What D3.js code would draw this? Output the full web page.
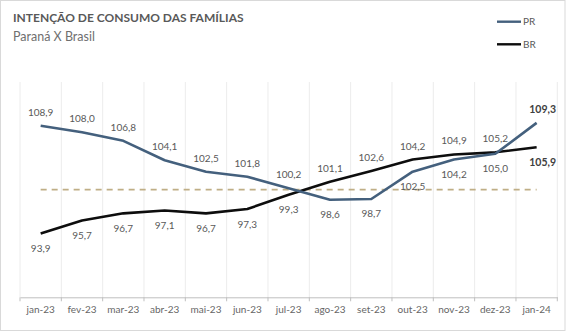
<!DOCTYPE html>
<html><head><meta charset="utf-8">
<script src="https://cdn.jsdelivr.net/npm/d3@7"></script>
<style>body{margin:0;background:#fff}svg{display:block}</style>
</head><body>
<script>
const categories = ["jan-23","fev-23","mar-23","abr-23","mai-23","jun-23","jul-23","ago-23","set-23","out-23","nov-23","dez-23","jan-24"];
const prValues = [108.9,108.0,106.8,104.1,102.5,101.8,100.2,98.6,98.7,102.5,104.2,105.0,109.3];
const brValues = [93.9,95.7,96.7,97.1,96.7,97.3,99.3,101.1,102.6,104.2,104.9,105.2,105.9];
const referenceValue = 100;
// label placement: "a" above, "b" below
const prLabelPos = ["a","a","a","a","a","a","a","b","b","b","b","b","a"];
const brLabelPos = ["b","b","b","b","b","b","b","a","a","a","a","a","b"];

const W = 566, H = 333;
const svg = d3.select("body").append("svg").attr("width", W).attr("height", H);
const font = "Lato, 'Open Sans', sans-serif";

svg.append("rect").attr("x",0.5).attr("y",0.5).attr("width",W-1.5).attr("height",330)
  .attr("fill","#fff").attr("stroke","#d9d9d9");

const x = d3.scaleBand().domain(categories).range([20, 557.3]);
const y = d3.scaleLinear().domain([85, 115]).range([297.3, 82]);
const cx = d => x(d) + x.bandwidth()/2;

// vertical gridlines at category boundaries
const bounds = categories.map(c => x(c)).concat([x.range()[1]]);
svg.append("g").selectAll("line").data(bounds).join("line")
  .attr("x1", d => d).attr("x2", d => d).attr("y1", y(115)).attr("y2", y(85))
  .attr("stroke", "#ececec").attr("stroke-width", 1);

// x axis
const axis = d3.axisBottom(x).tickSize(0).tickPadding(9);
const gx = svg.append("g").attr("transform", `translate(0,${y(85)})`).call(axis);
gx.select(".domain").attr("stroke", "#bfbfbf");
gx.selectAll("text").attr("font-family", font).attr("font-size", "10px").attr("fill", "#666666");
gx.selectAll(".bt").data(bounds).join("line").attr("class","bt")
  .attr("x1", d => d).attr("x2", d => d).attr("y1", 0).attr("y2", 4).attr("stroke", "#bfbfbf");

// reference dashed line
svg.append("line")
  .attr("x1", cx(categories[0])).attr("x2", cx(categories[categories.length-1]))
  .attr("y1", y(referenceValue)).attr("y2", y(referenceValue))
  .attr("stroke", "#bfae86").attr("stroke-width", 1.6).attr("stroke-dasharray", "6,5");

const line = d3.line().x((d,i) => cx(categories[i])).y(d => y(d));
svg.append("path").datum(brValues).attr("d", line).attr("fill","none")
  .attr("stroke","#0d0d0d").attr("stroke-width",2.6).attr("stroke-linejoin","round");
svg.append("path").datum(prValues).attr("d", line).attr("fill","none")
  .attr("stroke","#44607d").attr("stroke-width",2.6).attr("stroke-linejoin","round");

const fmt = v => d3.format(".1f")(v).replace(".", ",");
function labels(vals, pos) {
  const last = vals.length - 1;
  svg.append("g").selectAll("text").data(vals).join("text")
    .attr("x", (d,i) => cx(categories[i]) + (i === last ? 6 : 0))
    .attr("y", (d,i) => y(d) + (pos[i] === "a" ? -13.5 : 15) + 3.5)
    .attr("text-anchor", "middle")
    .attr("font-family", font)
    .attr("font-size", (d,i) => i === last ? "10.5px" : "10px")
    .attr("font-weight", (d,i) => i === last ? "bold" : "normal")
    .attr("fill", (d,i) => i === last ? "#404040" : "#595959")
    .text(fmt);
}
labels(prValues, prLabelPos);
labels(brValues, brLabelPos);

// title
svg.append("text").attr("x", 13).attr("y", 21.5).attr("font-family", font)
  .attr("font-size", "12px").attr("font-weight", "bold").attr("fill", "#595959")
  .text("INTENÇÃO DE CONSUMO DAS FAMÍLIAS");
svg.append("text").attr("x", 13).attr("y", 40.5).attr("font-family", font)
  .attr("font-size", "12.5px").attr("fill", "#6f6f6f")
  .text("Paraná X Brasil");

// legend
const legend = [{name:"PR", color:"#44607d", y:21.7},{name:"BR", color:"#0d0d0d", y:44.3}];
const lg = svg.append("g").selectAll("g").data(legend).join("g");
lg.append("line").attr("x1",497).attr("x2",521).attr("y1",d=>d.y).attr("y2",d=>d.y)
  .attr("stroke",d=>d.color).attr("stroke-width",2.4);
lg.append("text").attr("x",523).attr("y",d=>d.y+3.5).attr("font-family",font)
  .attr("font-size","10px").attr("fill","#595959").text(d=>d.name);
</script>
</body></html>
